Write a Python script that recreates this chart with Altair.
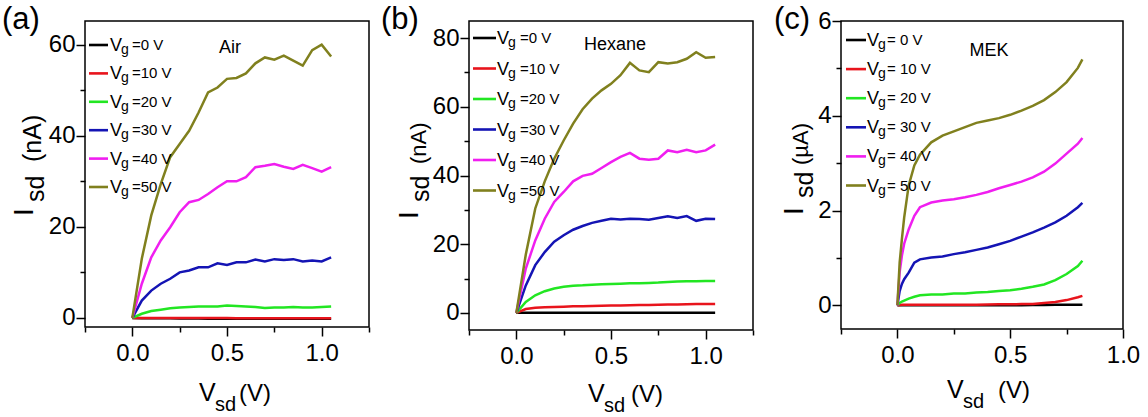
import altair as alt
import pandas as pd

VG = ["0", "10", "20", "30", "40", "50"]
COLORS = ["#000000", "#e8141c", "#22e622", "#1414b4", "#f01ef0", "#80801e"]

# ---- panel (a): Air ----
VSD_A = [0.0, 0.05, 0.1, 0.15, 0.2, 0.25, 0.3, 0.35, 0.4, 0.45, 0.5,
         0.55, 0.6, 0.65, 0.7, 0.75, 0.8, 0.85, 0.9, 0.95, 1.0, 1.05]
A_0 = [0, -0.1, -0.1, -0.1, -0.1, -0.15, -0.15, -0.15, -0.2, -0.2, -0.2,
       -0.2, -0.2, -0.2, -0.2, -0.2, -0.2, -0.2, -0.2, -0.2, -0.2, -0.2]
A_10 = [0, 0, 0, 0, 0, 0, 0, 0, -0.05, -0.05, -0.05,
        -0.1, -0.1, -0.1, -0.1, -0.1, -0.1, -0.1, -0.1, -0.1, -0.1, -0.1]
A_20 = [0, 0.9, 1.5, 1.8, 2.1, 2.3, 2.4, 2.5, 2.5, 2.5, 2.7,
        2.6, 2.5, 2.4, 2.2, 2.3, 2.3, 2.4, 2.3, 2.3, 2.4, 2.5]
A_30 = [0, 3.8, 6.0, 7.5, 8.6, 10.0, 10.4, 11.1, 11.1, 12.0, 11.6,
        12.2, 12.2, 12.8, 12.4, 12.9, 12.7, 12.9, 12.4, 12.6, 12.4, 13.3]
A_40 = [0, 7.5, 13.3, 17.0, 19.9, 23.2, 25.4, 25.9, 27.2, 28.7, 30.0,
        30.0, 30.9, 33.1, 33.4, 33.8, 33.2, 32.7, 33.6, 32.9, 32.1, 33.1]
A_50 = [0, 13.0, 22.5, 29.4, 35.3, 38.2, 41.1, 45.1, 49.5, 50.6, 52.5,
        52.7, 53.7, 55.9, 57.2, 56.7, 57.6, 56.5, 55.4, 58.8, 60.0, 57.4]

# ---- panel (b): Hexane ----
VSD_B = [0.0, 0.05, 0.1, 0.15, 0.2, 0.25, 0.3, 0.35, 0.4, 0.45, 0.5,
         0.55, 0.6, 0.65, 0.7, 0.75, 0.8, 0.85, 0.9, 0.95, 1.0, 1.05]
B_0 = [0, 0, 0, 0, 0, 0, 0, 0, 0, 0, 0,
       0, 0, 0, 0, 0, 0, 0, 0, 0, 0, 0]
B_10 = [0, 1.1, 1.5, 1.6, 1.7, 1.8, 1.9, 1.95, 2.0, 2.05, 2.1,
        2.15, 2.2, 2.25, 2.3, 2.35, 2.4, 2.45, 2.5, 2.55, 2.6, 2.6]
B_20 = [0, 3.2, 5.1, 6.3, 7.1, 7.6, 7.9, 8.0, 8.2, 8.3, 8.4,
        8.5, 8.6, 8.6, 8.7, 8.8, 9.0, 9.1, 9.2, 9.2, 9.3, 9.3]
B_30 = [0, 8.0, 13.9, 17.7, 20.7, 22.6, 24.2, 25.3, 26.2, 26.8, 27.4,
        27.2, 27.4, 27.3, 27.1, 27.6, 28.1, 27.6, 28.2, 26.8, 27.4, 27.3]
B_40 = [0, 12.9, 21.1, 27.4, 32.3, 35.2, 38.3, 39.9, 40.5, 42.2, 43.9,
        45.4, 46.6, 44.9, 44.6, 44.9, 47.3, 46.8, 47.5, 46.8, 47.3, 49.0]
B_50 = [0, 17.0, 30.4, 38.3, 44.9, 50.2, 55.1, 59.3, 62.4, 64.8, 66.7,
        69.2, 72.8, 70.6, 70.1, 73.0, 72.6, 73.0, 74.0, 75.9, 74.3, 74.5]

# ---- panel (c): MEK (uA) ----
VSD_C = [0.0, 0.01, 0.02, 0.03, 0.05, 0.075, 0.1, 0.15, 0.2, 0.25, 0.3,
         0.35, 0.4, 0.45, 0.5, 0.55, 0.6, 0.65, 0.7, 0.75, 0.8, 0.82]
C_0 = [0, 0, 0, 0, 0, 0, 0, 0, 0, 0, 0,
       0, 0, 0, 0, 0, 0.005, 0.005, 0.01, 0.01, 0.01, 0.01]
C_10 = [0, 0.005, 0.01, 0.01, 0.01, 0.01, 0.01, 0.01, 0.01, 0.01, 0.01,
        0.01, 0.015, 0.02, 0.02, 0.025, 0.03, 0.05, 0.07, 0.11, 0.17, 0.2]
C_20 = [0, 0.05, 0.08, 0.1, 0.14, 0.18, 0.21, 0.23, 0.23, 0.25, 0.25,
        0.27, 0.28, 0.30, 0.32, 0.35, 0.39, 0.44, 0.53, 0.66, 0.83, 0.94]
C_30 = [0, 0.3, 0.45, 0.55, 0.69, 0.9, 0.97, 1.01, 1.03, 1.08, 1.12,
        1.17, 1.22, 1.29, 1.36, 1.45, 1.54, 1.64, 1.75, 1.89, 2.07, 2.16]
C_40 = [0, 0.7, 1.05, 1.3, 1.6, 1.89, 2.07, 2.17, 2.21, 2.24, 2.28,
        2.33, 2.39, 2.47, 2.54, 2.61, 2.70, 2.82, 2.99, 3.20, 3.41, 3.53]
C_50 = [0, 0.9, 1.4, 1.85, 2.53, 2.95, 3.18, 3.44, 3.58, 3.67, 3.76,
        3.85, 3.90, 3.95, 4.02, 4.11, 4.21, 4.33, 4.50, 4.71, 5.01, 5.19]

LEG_A = ["=0 V", "=10 V", "=20 V", "=30 V", "=40 V", "=50 V"]
LEG_C = ["= 0 V", "= 10 V", "= 20 V", "= 30 V", "= 40 V", "= 50 V"]

FONT = "Liberation Sans, Arial, Helvetica"

color_scale = alt.Scale(domain=VG, range=COLORS)


def series_df(vsd, curves):
    rows = []
    for vg, vals in zip(VG, curves):
        for v, i in zip(vsd, vals):
            rows.append({"Vsd": v, "Isd": i, "Vg": vg})
    return pd.DataFrame(rows)


def txt(s, x, y, size, angle=0, align="left", baseline="alphabetic"):
    return alt.Chart(pd.DataFrame({"t": [s]})).mark_text(
        align=align, baseline=baseline, font=FONT, fontSize=size,
        angle=angle, color="black").encode(
        text="t:N", x=alt.value(x), y=alt.value(y))


def panel(df, xdom, xvals, ydom, yvals, ymaj, width, height, leg_text, leg,
          name, name_xy, ytitle, xtitle, label, label_x):
    xm = "abs(datum.value*2 - round(datum.value*2)) < 0.000001"
    ym = f"abs(datum.value % {ymaj}) < 0.000001"
    xaxis = alt.Axis(values=xvals, format=".1f", labelExpr=f"({xm}) ? datum.label : ''",
                     tickSize={"condition": {"test": xm, "value": 9}, "value": 5},
                     labelPadding=5, labelFlush=False, labelOverlap=False, title=None)
    yaxis = alt.Axis(values=yvals, format="d", labelExpr=f"({ym}) ? datum.label : ''",
                     tickSize={"condition": {"test": ym, "value": 9}, "value": 5},
                     labelPadding=1, labelOverlap=False, title=None)
    lines = alt.Chart(df).mark_line(strokeWidth=2.5).encode(
        x=alt.X("Vsd:Q", scale=alt.Scale(domain=xdom, nice=False, zero=False), axis=xaxis),
        y=alt.Y("Isd:Q", scale=alt.Scale(domain=ydom, nice=False, zero=False), axis=yaxis),
        color=alt.Color("Vg:N", scale=color_scale, legend=None),
    )
    first, step, lx0, lx1, vx, gx, rx = leg
    ldf = pd.DataFrame({"Vg": VG, "row": list(range(6)), "rest": leg_text})
    rowy = alt.Y("row:Q", scale=alt.Scale(domain=[0, 5], range=[first, first + 5 * step],
                                          nice=False, zero=False), axis=None)
    base = alt.Chart(ldf)
    leg_rule = base.mark_rule(strokeWidth=2.6).encode(
        x=alt.value(lx0), x2=alt.value(lx1), y=rowy,
        color=alt.Color("Vg:N", scale=color_scale, legend=None))
    leg_v = base.mark_text(text="V", align="left", baseline="alphabetic", font=FONT,
                           fontSize=18, dy=6, color="black").encode(x=alt.value(vx), y=rowy)
    leg_g = base.mark_text(text="g", align="left", baseline="alphabetic", font=FONT,
                           fontSize=14, dy=9, color="black").encode(x=alt.value(gx), y=rowy)
    leg_r = base.mark_text(align="left", baseline="alphabetic", font=FONT,
                           fontSize=15, dy=5, color="black").encode(
        x=alt.value(rx), y=rowy, text="rest:N")
    (ix, iy), (sx, sy), (px, py, ptxt, psize) = ytitle
    yt = [txt("I", ix, iy, 28, angle=270),
          txt("sd", sx, sy, 25, angle=270),
          txt(ptxt, px, py, psize, angle=270)]
    (vx_, vy_), (sdx, sdy), (pvx, pvy) = xtitle
    xt = [txt("V", vx_, vy_, 25),
          txt("sd", sdx, sdy, 20),
          txt("(V)", pvx, pvy, 24)]
    layers = [lines, leg_rule, leg_v, leg_g, leg_r,
              txt(name, name_xy[0], name_xy[1], 18, align="center", baseline="middle"),
              txt(label, label_x, -16, 31, baseline="top")] + yt + xt
    return alt.layer(*layers).resolve_scale(y="independent").properties(
        width=width, height=height)


df_a = series_df(VSD_A, [A_0, A_10, A_20, A_30, A_40, A_50])
df_b = series_df(VSD_B, [B_0, B_10, B_20, B_30, B_40, B_50])
df_c = series_df(VSD_C, [C_0, C_10, C_20, C_30, C_40, C_50])

pa = panel(df_a, [-0.25, 1.25], [-0.25, 0, 0.25, 0.5, 0.75, 1.0, 1.25],
           [-2, 65.2], [0, 10, 20, 30, 40, 50, 60], 20, 284, 306, LEG_A,
           (24, 28.4, 4, 23, 25, 36, 47), "Air", (145, 27),
           ((-52, 195), (-41, 181), (-44, 141, "(nA)", 25)),
           ((114, 380), (130, 390), (154, 380)), "(a)", -83)
pb = panel(df_b, [-0.25, 1.25], [-0.25, 0, 0.25, 0.5, 0.75, 1.0, 1.25],
           [-5, 85], [0, 10, 20, 30, 40, 50, 60, 70, 80], 20, 284, 309, LEG_A,
           (17, 30.5, 4, 27, 28, 39, 51), "Hexane", (146, 24),
           ((-51, 198), (-40, 181), (-43, 143, "(nA)", 22)),
           ((119, 381), (135, 391), (162, 381)), "(b)", -88)
pc = panel(df_c, [-0.25, 1.0], [-0.25, 0, 0.25, 0.5, 0.75, 1.0],
           [-0.5, 6], [0, 1, 2, 3, 4, 5, 6], 2, 282, 308, LEG_C,
           (19, 29.1, 5, 25, 26, 37, 46), "MEK", (148, 30),
           ((-38, 194), (-28, 177), (-33, 144, "(\u00b5A)", 22)),
           ((106, 377), (122, 387), (157, 377)), "(c)", -67)

inner = alt.hconcat(pb, pc, spacing=88, bounds="flush")
chart = alt.hconcat(pa, inner, spacing=100, bounds="flush").properties(
    padding={"left": 1, "top": 3, "right": 0, "bottom": 0}
).configure_view(stroke="black", strokeWidth=1.5).configure_axis(
    domain=False, grid=False, tickColor="black", tickWidth=1.5,
    labelFont=FONT, labelFontSize=24, labelColor="black"
)

chart.save("out.html", embed_options={"renderer": "svg", "actions": False})
